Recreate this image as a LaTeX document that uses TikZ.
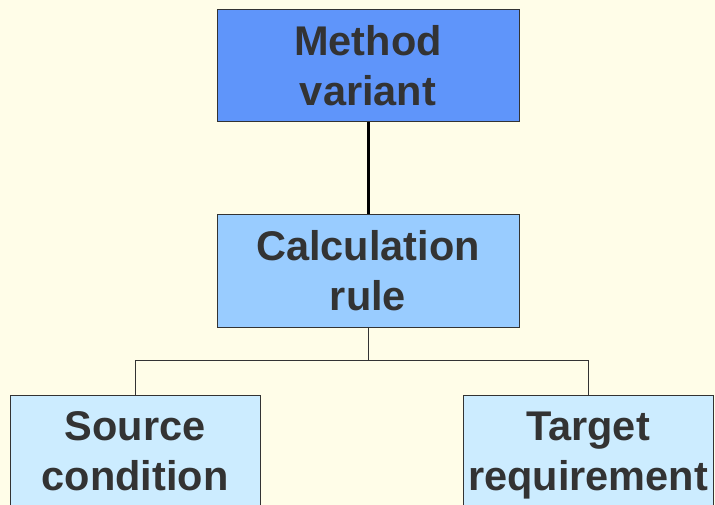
\documentclass[tikz,border=0pt]{standalone}
\usepackage{fontspec}
\setmainfont{Liberation Sans}
\definecolor{bg}{RGB}{255,253,232}
\definecolor{cA}{RGB}{95,149,250}
\definecolor{cB}{RGB}{153,204,255}
\definecolor{cC}{RGB}{204,236,255}
\definecolor{txt}{RGB}{51,51,51}
\definecolor{edge}{RGB}{51,51,51}
\begin{document}
\begin{tikzpicture}[x=1pt,y=-1pt,
  box/.style={draw=edge, line width=1pt, minimum width=302pt, minimum height=112pt, inner sep=0pt, align=center, text=txt, font=\fontsize{41.5}{50}\selectfont\bfseries},
  conn/.style={draw=edge, line width=1pt}]
\fill[bg] (0,0) rectangle (715,505);
\useasboundingbox (0,0) rectangle (715,505);
\begin{scope}
\clip (0,0) rectangle (715,505);
\node[box, fill=cA] (mv) at (368,66) {Method\\variant};
\node[box, fill=cB] (cr) at (368,271) {Calculation\\rule};
\node[box, fill=cC, minimum width=250pt] (sc) at (135,451) {Source\\condition};
\node[box, fill=cC, minimum width=250pt] (tr) at (588,451) {Target\\\raisebox{0pt}[\height][0pt]{requirement}};
\draw[line width=3pt] (mv.south) -- (cr.north);
\draw[conn] (cr.south) -- ++(0,33) coordinate (j);
\draw[conn] (sc.north) |- (j) -| (tr.north);
\end{scope}
\end{tikzpicture}
\end{document}
